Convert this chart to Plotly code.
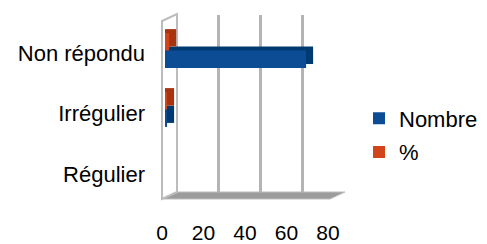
import plotly.graph_objects as go

categories = ["Régulier", "Irrégulier", "Non répondu"]
nombre = [0, 1, 68]
pourcent = [0, 1, 2]
x_ticks = [0, 20, 40, 60, 80]
series_names = ["Nombre", "%"]

W, H = 487, 244
BLUE_FACE, ORANGE_FACE = "#0b4c95", "#d2441a"
BLUE_SIDE, ORANGE_SIDE = "#003a70", "#a8330f"
FONT = "Liberation Sans, Arial, sans-serif"
FS_CAT = 22
FS_TICK = 21


def px(x):
    return x / W


def py(y):
    return 1 - y / H


def dom_x(a, b):
    return [px(a), px(b)]


def dom_y(top, bottom):
    return [py(bottom), py(top)]


# pixel geometry of the pseudo-3D box
FRONT_X = (162, 328)
LABEL_Y = (22.5, 204.5)
BAR_X = (165, 331)
BAR_Y = (21, 198)
SIDE_Y = (17, 194)
BACK_X = (177, 344)
BACK_Y = (15, 192)
DEPTH_PX = 7

xr = [0, 80]
yr = [-0.5, 2.5]
depth_units = DEPTH_PX * (xr[1] - xr[0]) / (BAR_X[1] - BAR_X[0])


def extrude(values):
    # extruded (top + side) face: from the bar origin to value + depth
    return [v + depth_units if v > 0 else 0 for v in values]


fig = go.Figure()

# back wall carrier (grid only)
fig.add_trace(go.Bar(y=categories, x=[0, 0, 0], orientation="h", xaxis="x", yaxis="y",
                     showlegend=False, hoverinfo="skip", marker=dict(color="rgba(0,0,0,0)", line=dict(width=0))))

# depth faces
fig.add_trace(go.Bar(y=categories, x=extrude(nombre), orientation="h", xaxis="x2", yaxis="y2",
                     marker=dict(color=BLUE_SIDE, line=dict(width=0)), showlegend=False, hoverinfo="skip"))
fig.add_trace(go.Bar(y=categories, x=extrude(pourcent), orientation="h", xaxis="x2", yaxis="y2",
                     marker=dict(color=ORANGE_SIDE, line=dict(width=0)), showlegend=False, hoverinfo="skip"))

# front faces
fig.add_trace(go.Bar(y=categories, x=nombre, orientation="h", name=series_names[0], xaxis="x3", yaxis="y3",
                     legendgroup="a", marker=dict(color=BLUE_FACE, line=dict(width=0))))
fig.add_trace(go.Bar(y=categories, x=pourcent, orientation="h", name=series_names[1], xaxis="x3", yaxis="y3",
                     legendgroup="b", marker=dict(color=ORANGE_FACE, line=dict(width=0))))

# front plane carrier (axis labels)
fig.add_trace(go.Bar(y=categories, x=[0, 0, 0], orientation="h", xaxis="x4", yaxis="y4",
                     showlegend=False, hoverinfo="skip", marker=dict(color="rgba(0,0,0,0)", line=dict(width=0))))

hidden = dict(showticklabels=False, ticks="", zeroline=False, showline=False, automargin=False)

fig.update_layout(
    width=W, height=H,
    margin=dict(l=0, r=0, t=0, b=0, autoexpand=False),
    paper_bgcolor="white", plot_bgcolor="rgba(0,0,0,0)",
    barmode="group", bargap=0.41, bargroupgap=0.0,
    font=dict(family=FONT, size=FS_CAT, color="#000000"),
    xaxis=dict(domain=dom_x(*BACK_X), range=xr, tickvals=x_ticks,
               showgrid=True, gridcolor="#b4b4b4", gridwidth=3, anchor="y", **hidden),
    yaxis=dict(domain=dom_y(*BACK_Y), range=yr, showgrid=False, anchor="x", type="category", **hidden),
    xaxis2=dict(domain=dom_x(*BAR_X), range=xr, showgrid=False, anchor="y2", **hidden),
    yaxis2=dict(domain=dom_y(*SIDE_Y), range=yr, showgrid=False, anchor="x2", type="category", **hidden),
    xaxis3=dict(domain=dom_x(*BAR_X), range=xr, showgrid=False, anchor="y3", **hidden),
    yaxis3=dict(domain=dom_y(*BAR_Y), range=yr, showgrid=False, anchor="x3", type="category", **hidden),
    xaxis4=dict(domain=dom_x(*FRONT_X), range=xr, tickvals=x_ticks, showgrid=False, zeroline=False,
                showline=False, ticks="", ticklabelstandoff=13, anchor="y4", automargin=False,
                tickfont=dict(size=FS_TICK, family=FONT, color="#000000")),
    yaxis4=dict(domain=dom_y(*LABEL_Y), range=yr, showgrid=False, zeroline=False, showline=False,
                ticks="", ticklabelstandoff=16, anchor="x4", type="category", automargin=False,
                tickfont=dict(size=FS_CAT, family=FONT, color="#000000")),
    legend=dict(x=px(359), y=py(135.5), xanchor="left", yanchor="middle",
                font=dict(size=FS_CAT, family=FONT, color="#000000"), bgcolor="rgba(0,0,0,0)",
                traceorder="grouped", tracegroupgap=2),
)


def path(points):
    return "M " + " L ".join(f"{px(a):.5f},{py(b):.5f}" for a, b in points) + " Z"


# floor
fig.add_shape(type="path", xref="paper", yref="paper", layer="below",
              path=path([(162, 199), (330, 199), (345, 192), (177, 192)]),
              fillcolor="#9c9c9c", line=dict(color="#bdbdbd", width=1))
# left wall
fig.add_shape(type="path", xref="paper", yref="paper", layer="below",
              path=path([(162, 199), (162, 21), (177, 14), (177, 192)]),
              fillcolor="rgba(255,255,255,0)", line=dict(color="#bcbcbc", width=2))

fig.write_html("out.html", config={"displayModeBar": False},
               post_script="document.body.style.margin='0px';")
